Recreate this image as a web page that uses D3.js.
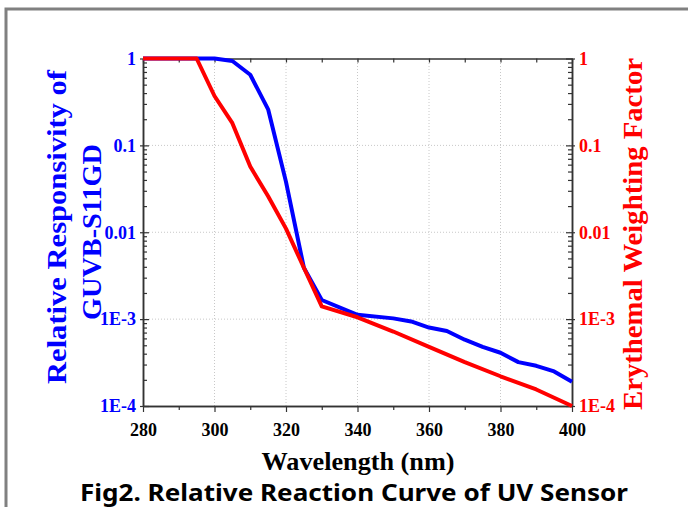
<!DOCTYPE html>
<html>
<head>
<meta charset="utf-8">
<script src="https://cdn.jsdelivr.net/npm/d3@7"></script>
<style>
  body { margin: 0; background: #fff; }
  svg { display: block; }
</style>
</head>
<body>
<script>
// wavelength (nm)
var wlBlue = [280, 300, 305, 310, 315, 320, 325, 330, 340, 350, 355, 360, 365, 370, 375, 380, 385, 390, 395, 400]
var respBlue = [1, 1, 0.935, 0.65, 0.26, 0.038, 0.0039, 0.00166, 0.00112, 0.00102, 0.00094, 0.0008, 0.00073, 0.00058, 0.00048, 0.00041, 0.00032, 0.00029, 0.00025, 0.00019]

var wlRed = [280, 295, 300, 305, 310, 315, 320, 325, 330, 340, 350, 360, 370, 380, 390, 400]
var erythRed = [1, 1, 0.37, 0.18, 0.057, 0.026, 0.011, 0.0039, 0.0014, 0.00105, 0.00072, 0.00048, 0.00032, 0.00022, 0.000155, 0.0001]

var xTicks = [280, 300, 320, 340, 360, 380, 400]
var xMinor = [290, 310, 330, 350, 370, 390]
var yTicks = [1, 0.1, 0.01, 0.001, 0.0001]
var yTickLabels = ['1', '0.1', '0.01', '1E-3', '1E-4']

var width = 688,
	height = 507,
	margin = {top: 58.5, left: 143, right: 116, bottom: 101};

var serif = "'Liberation Serif', 'Times New Roman', serif"

var svg = d3.select('body')
	.append('svg')
	.attr('width', width)
	.attr('height', height)

// grey frame of the figure
svg.append('path')
	.attr('d', 'M6,507 L6,9 L688,9')
	.attr('fill', 'none')
	.attr('stroke', '#808080')
	.attr('stroke-width', 3)

var x = d3.scaleLinear()
	.domain([280, 400])
	.range([margin.left, width - margin.right])

var y = d3.scaleLog()
	.domain([0.0001, 1])
	.range([height - margin.bottom, margin.top])

var yMinor = []
yTicks.slice(1).forEach(d => d3.range(2, 10).forEach(k => yMinor.push(d * k)))

// dotted grid
var grid = svg.append('g')
	.attr('stroke', '#c8c8c8')
	.attr('stroke-width', 1)
	.attr('stroke-dasharray', '1,2')
grid.selectAll('.gx')
	.data(xTicks.slice(1, -1)).enter()
	.append('line')
	.attr('x1', d => x(d)).attr('x2', d => x(d))
	.attr('y1', y.range()[0]).attr('y2', y.range()[1])
grid.selectAll('.gy')
	.data(yTicks.slice(1, -1)).enter()
	.append('line')
	.attr('x1', x.range()[0]).attr('x2', x.range()[1])
	.attr('y1', d => y(d)).attr('y2', d => y(d))

function styleAxis(g, color) {
	g.select('.domain').attr('stroke', '#333').attr('stroke-width', 1.5)
	g.selectAll('.tick line').attr('stroke', '#333').attr('stroke-width', 1.2)
	g.selectAll('.tick text')
		.attr('fill', color)
		.style('font-family', serif)
		.style('font-weight', 'bold')
		.style('font-size', '18px')
}

// bottom axis
svg.append('g')
	.attr('transform', 'translate(0,' + y.range()[0] + ')')
	.call(d3.axisBottom(x).tickValues(xMinor).tickSize(4).tickSizeOuter(0).tickFormat(''))
	.call(g => styleAxis(g, '#000'))
svg.append('g')
	.attr('transform', 'translate(0,' + y.range()[0] + ')')
	.call(d3.axisBottom(x).tickValues(xTicks).tickSize(6).tickSizeOuter(0).tickPadding(11).tickFormat(d3.format('d')))
	.call(g => styleAxis(g, '#000'))

// top axis (ticks pointing in)
svg.append('g')
	.attr('transform', 'translate(0,' + y.range()[1] + ')')
	.call(d3.axisBottom(x).tickValues(xTicks.concat(xMinor)).tickSize(4).tickSizeOuter(0).tickFormat(''))
	.call(g => styleAxis(g, '#000'))

// left axis
svg.append('g')
	.attr('transform', 'translate(' + x.range()[0] + ',0)')
	.call(d3.axisRight(y).tickValues(yMinor).tickSize(4).tickSizeOuter(0).tickFormat(''))
	.call(g => styleAxis(g, '#00f'))
svg.append('g')
	.attr('transform', 'translate(' + x.range()[0] + ',0)')
	.call(d3.axisLeft(y).tickValues(yTicks).tickSize(3).tickSizeOuter(0).tickPadding(4).tickFormat((d, i) => yTickLabels[i]))
	.call(g => styleAxis(g, '#0000ff'))
	.call(g => g.selectAll('.tick line').attr('x2', 6).attr('x1', -3))

// right axis
svg.append('g')
	.attr('transform', 'translate(' + x.range()[1] + ',0)')
	.call(d3.axisLeft(y).tickValues(yMinor).tickSize(4).tickSizeOuter(0).tickFormat(''))
	.call(g => styleAxis(g, '#f00'))
svg.append('g')
	.attr('transform', 'translate(' + x.range()[1] + ',0)')
	.call(d3.axisRight(y).tickValues(yTicks).tickSize(3).tickSizeOuter(0).tickPadding(4).tickFormat((d, i) => yTickLabels[i]))
	.call(g => styleAxis(g, '#ff0000'))
	.call(g => g.selectAll('.tick line').attr('x2', 3).attr('x1', -6))

// curves
var line = d3.line()
	.x(d => x(d[0]))
	.y(d => y(d[1]))

svg.append('path')
	.datum(wlBlue.map((d, i) => [d, respBlue[i]]))
	.attr('d', line)
	.attr('fill', 'none')
	.attr('stroke', '#0000ff')
	.attr('stroke-width', 4)
	.attr('stroke-linejoin', 'round')

svg.append('path')
	.datum(wlRed.map((d, i) => [d, erythRed[i]]))
	.attr('d', line)
	.attr('fill', 'none')
	.attr('stroke', '#ff0000')
	.attr('stroke-width', 4)
	.attr('stroke-linejoin', 'round')

// axis titles
var yMid = (y.range()[0] + y.range()[1]) / 2

function title(tx, ty, rot, color, size, len, str, family) {
	svg.append('text')
		.attr('transform', 'translate(' + tx + ',' + ty + ')' + (rot ? ' rotate(-90)' : ''))
		.attr('text-anchor', 'middle')
		.attr('fill', color)
		.attr('textLength', len)
		.attr('lengthAdjust', 'spacingAndGlyphs')
		.style('font-family', family || serif)
		.style('font-weight', 'bold')
		.style('font-size', size + 'px')
		.text(str)
}

title(66, 227, true, '#0000ff', 27, 314, 'Relative Responsivity of')
title(101, 232, true, '#0000ff', 27, 176, 'GUVB-S11GD')
title(642, 234, true, '#ff0000', 28, 352, 'Erythemal Weighting Factor')
title(358, 470, false, '#000', 25, 193, 'Wavelength (nm)')
title(354, 501, false, '#000', 24, 548, 'Fig2. Relative Reaction Curve of UV Sensor', "'Noto Sans', sans-serif")
</script>
</body>
</html>
